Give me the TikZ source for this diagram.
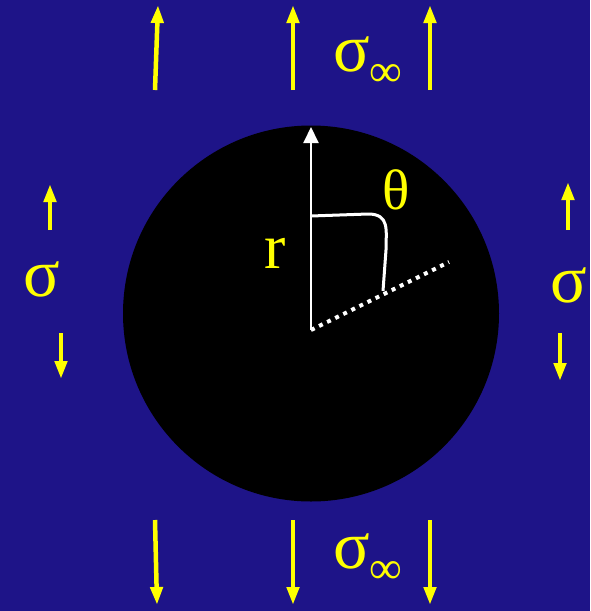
\documentclass[tikz,border=0pt]{standalone}
\usepackage{fontspec}
\setmainfont{Liberation Serif}
\usepackage{xcolor}
\usetikzlibrary{arrows.meta}

\definecolor{plateblue}{RGB}{30,20,136}
\definecolor{loadyellow}{RGB}{255,255,0}

\tikzset{
    load/.style={line width=4.5pt, loadyellow, -{Triangle[length=18pt,width=12pt]}},
    stresslabel/.style={loadyellow, font=\fontsize{68}{72}\selectfont, inner sep=0pt},
    geomlabel/.style={loadyellow, font=\fontsize{57}{60}\selectfont, inner sep=0pt}
}

\begin{document}
\begin{tikzpicture}[x=1pt, y=-1pt]
        % Plate and hole
        \fill[plateblue] (0,0) rectangle (590,611);
        \useasboundingbox (0,0) rectangle (590,611);
        \fill[black] (311,313.5) circle (188);
        
        % Far field load, top row
        \coordinate (t1s) at (155,90); \coordinate (t1e) at (158,5);
        \coordinate (t2s) at (293,90); \coordinate (t2e) at (293,5);
        \coordinate (t3s) at (430,90); \coordinate (t3e) at (430,5);
        \draw[load] (t1s) -- (t1e);
        \draw[load] (t2s) -- (t2e);
        \draw[load] (t3s) -- (t3e);
        \node[stresslabel] (sigtop) at (368,62) {σ\raisebox{-0.22em}{\fontsize{46}{48}\selectfont ∞}};
        
        % Far field load, bottom row
        \coordinate (b1s) at (155,520); \coordinate (b1e) at (157,605);
        \coordinate (b2s) at (293,520); \coordinate (b2e) at (293,605);
        \coordinate (b3s) at (430,520); \coordinate (b3e) at (430,605);
        \draw[load] (b1s) -- (b1e);
        \draw[load] (b2s) -- (b2e);
        \draw[load] (b3s) -- (b3e);
        \node[stresslabel] (sigbot) at (368,559) {σ\raisebox{-0.22em}{\fontsize{46}{48}\selectfont ∞}};
        
        % Local stress, left side
        \node[stresslabel] (sigleft) at (42,279) {σ};
        \coordinate (l1s) at (50,230); \coordinate (l1e) at (50,184);
        \coordinate (l2s) at (61,333); \coordinate (l2e) at (61,379);
        \draw[load] (l1s) -- (l1e);
        \draw[load] (l2s) -- (l2e);
        
        % Local stress, right side
        \node[stresslabel] (sigright) at (569,285) {σ};
        \coordinate (r1s) at (568,230); \coordinate (r1e) at (568,182);
        \coordinate (r2s) at (560,333); \coordinate (r2e) at (560,381);
        \draw[load] (r1s) -- (r1e);
        \draw[load] (r2s) -- (r2e);
        
        % Polar coordinates r and theta
        \coordinate (origin) at (311,330);
        \coordinate (raxis) at (311,127);
        \coordinate (ray) at (449,262);
        \draw[white, line width=2pt, -{Triangle[length=16pt,width=15pt]}] (origin) -- (raxis);
        \draw[white, line width=4pt, dash pattern=on 4pt off 5pt] (origin) -- (ray);
        \coordinate (arcstart) at (311,216);
        \coordinate (arcend) at (383,291);
        \draw[white, line width=3pt] (arcstart) -- (368,214) .. controls (390,214) and (386,230) .. (386,250) -- (arcend);
        \node[geomlabel] (theta) at (396,190) {θ};
        \node[geomlabel, font=\fontsize{64}{66}\selectfont] (rlabel) at (275,253) {r};
    \end{tikzpicture}
\end{document}
